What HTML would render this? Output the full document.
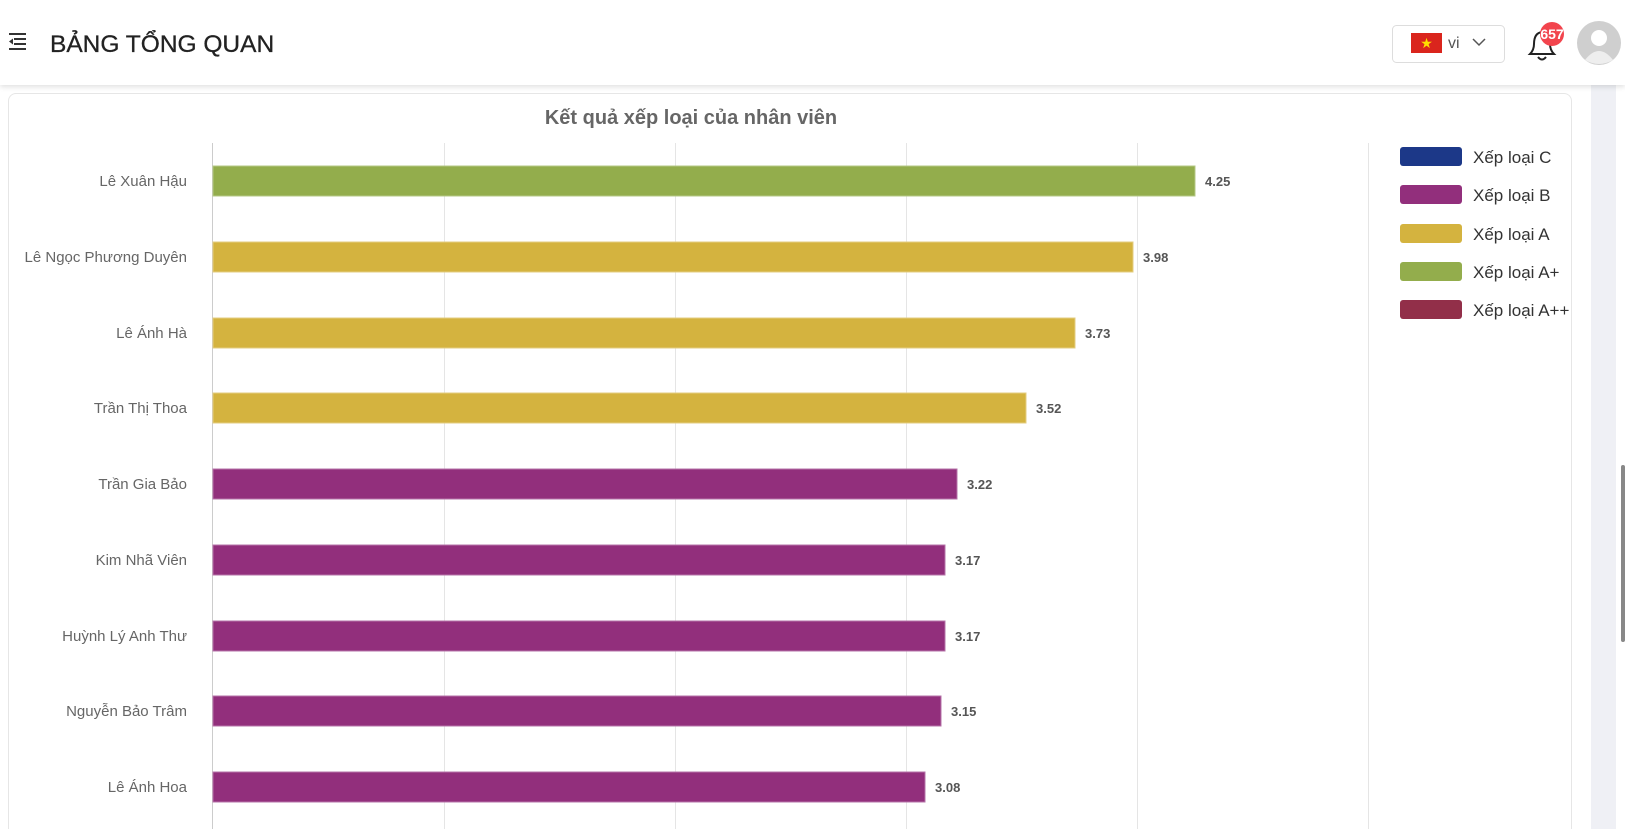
<!DOCTYPE html>
<html><head><meta charset="utf-8"><style>
html,body{margin:0;padding:0;width:1625px;height:829px;overflow:hidden;background:#fff;font-family:"Liberation Sans",Arial,sans-serif;}
#wrap{position:relative;width:1625px;height:829px;overflow:hidden}
.hdr{position:absolute;left:0;top:0;width:1625px;height:85px;background:#fff;box-shadow:0 2px 5px rgba(0,0,0,0.12);z-index:2}
</style></head><body><div id="wrap">
<div class="hdr"></div>
<div style="position:absolute;left:1591px;top:85px;width:25px;height:744px;background:#eff0f5"></div>
<div style="position:absolute;left:1621px;top:465px;width:4px;height:177px;background:#888;border-radius:3px"></div>
<div style="position:absolute;left:8px;top:93px;width:1562px;height:735px;border:1px solid #e6e6e6;border-bottom:none;border-radius:8px 8px 0 0;background:#fff"></div>
<svg style="position:absolute;left:0;top:0;z-index:3" width="1625" height="829" xmlns="http://www.w3.org/2000/svg" font-family="Liberation Sans, Arial, sans-serif">
 <g fill="#333"><rect x="9" y="33" width="17" height="2"/><rect x="14" y="38" width="12" height="2"/><rect x="14" y="43" width="12" height="2"/><rect x="9" y="48" width="17" height="2"/><path d="M9 41.5 L13 38.5 L13 44.5Z"/></g>
 <text x="50" y="52" font-size="24.5" fill="#222" stroke="#222" stroke-width="0.3">BẢNG TỔNG QUAN</text>
 <rect x="1392.5" y="25.5" width="112" height="37" rx="4" fill="#fff" stroke="#ddd"/>
 <rect x="1411" y="33" width="31" height="20" fill="#da251d"/>
 <text x="1426.5" y="48" font-size="14" fill="#ffde00" text-anchor="middle">★</text>
 <text x="1448" y="48" font-size="16" fill="#555">vi</text>
 <path d="M1473 39 L1479 45 L1485 39" fill="none" stroke="#555" stroke-width="1.5"/>
 <path d="M1530 54 Q1534 50 1534 44 Q1534 33 1542 32 Q1550 33 1550 44 Q1550 50 1554 54 Z" fill="none" stroke="#222" stroke-width="2"/>
 <path d="M1538 57 Q1542 62 1546 57" fill="none" stroke="#222" stroke-width="2"/>
 <circle cx="1552" cy="34" r="12" fill="#f2444d"/>
 <text x="1552" y="39" font-size="14" fill="#fff" text-anchor="middle" font-weight="bold">657</text>
 <circle cx="1599" cy="43" r="22" fill="#cfcfcf"/>
 <circle cx="1599" cy="38" r="8" fill="#fff"/>
 <path d="M1585 60 Q1599 42 1613 60 Q1599 68 1585 60Z" fill="#eee"/>
 <text x="691" y="124" font-size="20" font-weight="bold" fill="#666" text-anchor="middle">Kết quả xếp loại của nhân viên</text>
 <g stroke="#e5e5e5" stroke-width="1">
  <line x1="444.5" y1="143" x2="444.5" y2="829"/><line x1="675.5" y1="143" x2="675.5" y2="829"/>
  <line x1="906.5" y1="143" x2="906.5" y2="829"/><line x1="1137.5" y1="143" x2="1137.5" y2="829"/>
  <line x1="1368.5" y1="143" x2="1368.5" y2="829"/>
 </g>
 <line x1="212.5" y1="143" x2="212.5" y2="829" stroke="#ccc"/>
 <g font-size="15" fill="#666" text-anchor="end">
  <text x="187" y="186">Lê Xuân Hậu</text>
  <text x="187" y="262">Lê Ngọc Phương Duyên</text>
  <text x="187" y="338">Lê Ánh Hà</text>
  <text x="187" y="413">Trần Thị Thoa</text>
  <text x="187" y="489">Trần Gia Bảo</text>
  <text x="187" y="565">Kim Nhã Viên</text>
  <text x="187" y="641">Huỳnh Lý Anh Thư</text>
  <text x="187" y="716">Nguyễn Bảo Trâm</text>
  <text x="187" y="792">Lê Ánh Hoa</text>
 </g>
 <g stroke-width="1">
  <rect x="213" y="166" width="982" height="30" fill="#93ad4c" stroke="#b4c886"/>
  <rect x="213" y="242" width="920" height="30" fill="#d4b33f" stroke="#e3cd80"/>
  <rect x="213" y="318" width="862" height="30" fill="#d4b33f" stroke="#e3cd80"/>
  <rect x="213" y="393" width="813" height="30" fill="#d4b33f" stroke="#e3cd80"/>
  <rect x="213" y="469" width="744" height="30" fill="#922f7c" stroke="#b673a8"/>
  <rect x="213" y="545" width="732" height="30" fill="#922f7c" stroke="#b673a8"/>
  <rect x="213" y="621" width="732" height="30" fill="#922f7c" stroke="#b673a8"/>
  <rect x="213" y="696" width="728" height="30" fill="#922f7c" stroke="#b673a8"/>
  <rect x="213" y="772" width="712" height="30" fill="#922f7c" stroke="#b673a8"/>
 </g>
 <g font-size="13" font-weight="bold" fill="#555">
  <text x="1205" y="186">4.25</text>
  <text x="1143" y="262">3.98</text>
  <text x="1085" y="338">3.73</text>
  <text x="1036" y="413">3.52</text>
  <text x="967" y="489">3.22</text>
  <text x="955" y="565">3.17</text>
  <text x="955" y="641">3.17</text>
  <text x="951" y="716">3.15</text>
  <text x="935" y="792">3.08</text>
 </g>
 <g font-size="17" fill="#333">
  <rect x="1400" y="147" width="62" height="19" rx="3" fill="#1c3888"/><text x="1473" y="163">Xếp loại C</text>
  <rect x="1400" y="185" width="62" height="19" rx="3" fill="#922f7c"/><text x="1473" y="201">Xếp loại B</text>
  <rect x="1400" y="224" width="62" height="19" rx="3" fill="#d4b33f"/><text x="1473" y="240">Xếp loại A</text>
  <rect x="1400" y="262" width="62" height="19" rx="3" fill="#93ad4c"/><text x="1473" y="278">Xếp loại A+</text>
  <rect x="1400" y="300" width="62" height="19" rx="3" fill="#922f49"/><text x="1473" y="316">Xếp loại A++</text>
 </g>
</svg>
</div></body></html>
